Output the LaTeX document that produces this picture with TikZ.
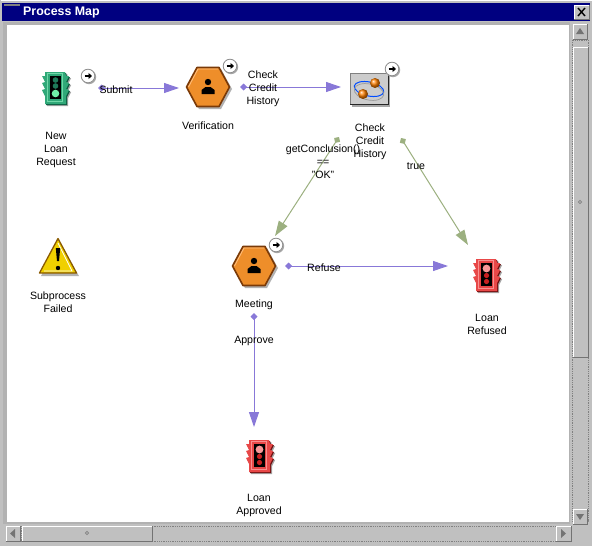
\documentclass[tikz,border=0pt]{standalone}
\usepackage{fontspec}
\setmainfont{Liberation Sans}
\usetikzlibrary{arrows.meta}
\definecolor{flowblue}{HTML}{8878D8}
\definecolor{flowgreen}{HTML}{9CB080}
\definecolor{wingray}{HTML}{C0C0C0}
\definecolor{navytitle}{HTML}{000080}
\definecolor{hexorange}{HTML}{EE8E2A}
\definecolor{hexedge}{HTML}{7A3A08}
\definecolor{lightgreen}{HTML}{30A878}
\definecolor{lightgreenhi}{HTML}{70D8A8}
\definecolor{lightgreenedge}{HTML}{0C5A40}
\definecolor{lampdark}{HTML}{1E7A58}
\definecolor{lampbright}{HTML}{70F0A8}
\definecolor{lightred}{HTML}{E84848}
\definecolor{lightredhi}{HTML}{F89090}
\definecolor{lightrededge}{HTML}{701010}
\definecolor{lamppink}{HTML}{F89898}
\definecolor{lampred}{HTML}{C82020}
\definecolor{warnyellow}{HTML}{F0D000}
\definecolor{warnedge}{HTML}{8A5A00}
\tikzset{
  lab/.style={font=\fontsize{10.6}{13}\selectfont, align=center, inner sep=0pt, text=black},
  bluelink/.style={draw=flowblue, line width=1pt, {Diamond[length=7pt,width=7pt,fill=flowblue]}-{Triangle[length=15pt,width=10pt,fill=flowblue]}},
  greenlink/.style={draw=flowgreen, line width=1pt, {Diamond[length=7pt,width=7pt,fill=flowgreen]}-{Triangle[length=15pt,width=10pt,fill=flowgreen]}},
  hairwhite/.style={draw=white, line width=1pt},
  hairdark/.style={draw=black!55, line width=1pt}
}
% x y
\newcommand{\badgeicon}[2]{%
  \begin{scope}[shift={(#1,#2)}]
    \fill[black!35] (1,1) circle (7.2);
    \fill[white] (0,0) circle (7);
    \draw[black!45, line width=.8pt] (0,0) circle (6.8);
    \draw[black, line width=1.6pt, -{Triangle[length=3.5pt,width=6pt]}] (-3.5,0) -- (4,0);
  \end{scope}}
% x y
\newcommand{\hexicon}[2]{%
  \begin{scope}[shift={(#1,#2)}]
    \fill[black!30] (-20,2) -- (-9,-18) -- (13,-18) -- (24,2) -- (13,22) -- (-9,22) -- cycle;
    \fill[hexorange, draw=hexedge, line width=1.6pt, line join=round] (-21.5,0) -- (-11,-19.5) -- (11,-19.5) -- (21.5,0) -- (11,19.5) -- (-11,19.5) -- cycle;
    \draw[orange!50!white, line width=.8pt] (-19.5,0) -- (-10,-18) -- (10,-18);
    \fill[black] (0,-5) circle (3.2);
    \fill[black] (-6.5,7) -- (-6.5,3) -- (-2.5,0) -- (2.5,0) -- (6.5,3) -- (6.5,7) -- cycle;
  \end{scope}}
% x y body highlight edge
\newcommand{\lighticon}[5]{%
  \begin{scope}[shift={(#1,#2)}]
    \def\lightshape{(-10,-16) -- (10,-16) -- (11,-12) -- (14,-12) -- (11,-6) -- (14,-5) -- (11,1) -- (14,2) -- (11,8) -- (11,16) -- (-10,16) -- (-10,8) -- (-13,2) -- (-10,1) -- (-13,-5) -- (-10,-6) -- (-13,-12) -- (-10,-12) -- cycle}
    \fill[black!35, shift={(2.2,2)}] \lightshape;
    \fill[#3, shift={(1,1)}] \lightshape;
    \fill[#5] \lightshape;
    \draw[#4, line width=.8pt] (-7.5,-14.5) rectangle (7.5,13.5);
    \fill[black] (-5.5,-12) rectangle (5.5,11);
  \end{scope}}
\begin{document}
\begin{tikzpicture}[x=1pt,y=-1pt]
\useasboundingbox (0,0) rectangle (592,546);
% window
\fill[wingray] (0,0) rectangle (592,546);
\draw[hairwhite] (0.5,0.5) -- (591.5,0.5);
\fill[navytitle] (2,3) rectangle (590,21);
\fill[black!50] (4,4) rectangle (20,5.5);
\node[anchor=west, text=white, font=\fontsize{12.4}{13}\selectfont\bfseries, inner sep=0pt] (title) at (23,13) {Process Map};
% close button
\fill[wingray] (574,5) rectangle (589,19);
\draw[hairwhite] (574,19) -- (574,5) -- (589,5);
\draw[hairdark] (589,5) -- (589,19) -- (574,19);
\draw[black, line width=1.4pt] (578,8) -- (585,16) (585,8) -- (578,16);
% client area
\fill[black!30] (3,22) rectangle (570,524);
\fill[white] (7,25) rectangle (569,522);
% vertical scroll bar
\draw[black!50, line width=.8pt, densely dotted] (572,40) rectangle (588,521);
\fill[wingray] (573,24) rectangle (587,39);
\draw[hairwhite] (573,39) -- (573,24) -- (587,24);
\draw[hairdark] (587,24) -- (587,39) -- (573,39);
\fill[black!55] (576,34) -- (580,28) -- (584,34) -- cycle;
\fill[wingray] (573,47) rectangle (588,357);
\draw[hairwhite] (573,357) -- (573,47) -- (588,47);
\draw[hairdark] (588,47) -- (588,357) -- (573,357);
\draw[black!50, line width=.8pt] (580,202) circle (1.6);
\fill[wingray] (573,509) rectangle (587,524);
\draw[hairwhite] (573,524) -- (573,509) -- (587,509);
\draw[hairdark] (587,509) -- (587,524) -- (573,524);
\fill[black!55] (576,514) -- (580,520) -- (584,514) -- cycle;
% horizontal scroll bar
\draw[black!50, line width=.8pt, densely dotted] (21,526) rectangle (556,541);
\fill[wingray] (6,526) rectangle (20,541);
\draw[hairwhite] (6,541) -- (6,526) -- (20,526);
\draw[hairdark] (20,526) -- (20,541) -- (6,541);
\fill[black!55] (10,533.5) -- (15,529) -- (15,538) -- cycle;
\fill[wingray] (22,526) rectangle (152,541);
\draw[hairwhite] (22,541) -- (22,526) -- (152,526);
\draw[hairdark] (152,526) -- (152,541) -- (22,541);
\draw[black!50, line width=.8pt] (87,533) circle (1.6);
\fill[wingray] (556,526) rectangle (571,541);
\draw[hairwhite] (556,541) -- (556,526) -- (571,526);
\draw[hairdark] (571,526) -- (571,541) -- (556,541);
\fill[black!55] (566,533.5) -- (561,529) -- (561,538) -- cycle;

% icons
\lighticon{55}{88}{lightgreenedge}{lightgreenhi}{lightgreen}
\fill[lampdark] (55.5,80) circle (2.8);
\fill[lampdark] (55.5,86) circle (2.8);
\fill[lampbright] (55.5,93.5) circle (3.8);
\hexicon{208}{87}
\hexicon{254}{266}
\lighticon{486}{275}{lightrededge}{lightredhi}{lightred}
\fill[lamppink] (486.5,268.5) circle (3.9);
\fill[lampred] (486.5,275.5) circle (2.6);
\fill[lampred] (486.5,281.5) circle (2.6);
\lighticon{259}{456}{lightrededge}{lightredhi}{lightred}
\fill[lamppink] (259.5,449.5) circle (3.9);
\fill[lampred] (259.5,456.5) circle (2.6);
\fill[lampred] (259.5,462.5) circle (2.6);
% check-credit subprocess icon
\fill[black!35] (352,75) rectangle (390,107);
\fill[black!20] (350,73) rectangle (388,104);
\draw[black!50, line width=1pt] (350,104) -- (350,73) -- (388,73);
\draw[black!85, line width=1pt] (388,73) -- (388,104) -- (350,104);
\draw[blue!70!cyan, line width=1pt, rotate around={-12:(369,89)}] (369,89) ellipse (15 and 7);
\draw[black!40, line width=.7pt, rotate around={-12:(369,92)}] (369,92) ellipse (15 and 8);
\shade[ball color=orange] (375,83) circle (5);
\shade[ball color=orange] (363,94) circle (5);
% warning icon
\fill[black!30] (59,241) -- (79,276) -- (41,276) -- cycle;
\fill[warnyellow, draw=warnedge, line width=1.3pt, line join=round] (58,238.5) -- (76.5,273) -- (39.5,273) -- cycle;
\draw[white, line width=.7pt] (58,243) -- (72,271) -- (44,271);
\fill[black] (55.8,248) -- (60.2,248) -- (59,261) -- (57,261) -- cycle;
\fill[black] (58,268) circle (2.2);
% badges
\badgeicon{88}{76}
\badgeicon{230}{66}
\badgeicon{392}{69}
\badgeicon{276}{245}

% anchors of the connectors
\coordinate (submitA) at (98,88);
\coordinate (submitB) at (179,88);
\coordinate (checkA) at (240,87);
\coordinate (checkB) at (341,87);
\coordinate (condA) at (339,137);
\coordinate (condB) at (275,236);
\coordinate (trueA) at (401,138);
\coordinate (trueB) at (468,245);
\coordinate (refuseA) at (285,266);
\coordinate (refuseB) at (448,266);
\coordinate (approveA) at (254,313);
\coordinate (approveB) at (254,427);
\draw[bluelink] (submitA) -- (submitB);
\draw[bluelink] (checkA) -- (checkB);
\draw[greenlink] (condA) -- (condB);
\draw[greenlink] (trueA) -- (trueB);
\draw[bluelink] (refuseA) -- (refuseB);
\draw[bluelink] (approveA) -- (approveB);

% labels
\node[lab] (newloan) at (56,149.5) {New\\Loan\\Request};
\node[lab] (verif) at (208,126) {Verification};
\node[lab] (checklink) at (263,89) {Check\\Credit\\History};
\node[lab] (checknode) at (370,142) {Check\\Credit\\History};
\node[lab] (submit) at (116,90) {Submit};
\node[lab] (cond) at (323,162) {getConclusion()\\==\\"OK"};
\node[lab] (truelab) at (416,166) {true};
\node[lab] (refuse) at (324,268) {Refuse};
\node[lab] (meeting) at (254,305) {Meeting};
\node[lab] (approve) at (254,341) {Approve};
\node[lab] (failed) at (58,302.5) {Subprocess\\Failed};
\node[lab] (refused) at (487,324.5) {Loan\\Refused};
\node[lab] (approved) at (259,505.5) {Loan\\Approved};
\end{tikzpicture}
\end{document}
